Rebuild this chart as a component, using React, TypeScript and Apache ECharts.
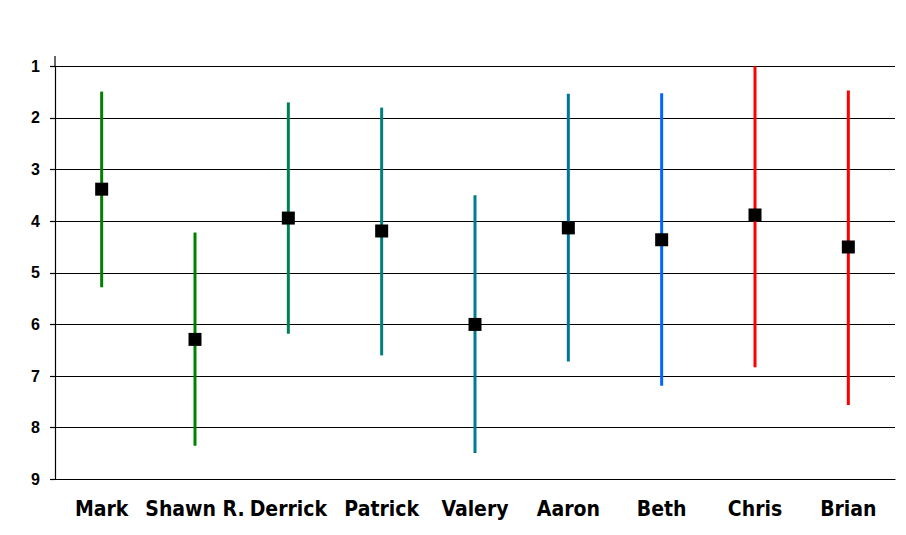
import React, { useEffect, useRef } from "react";
import * as echarts from "echarts";

const categories = ["Mark", "Shawn R.", "Derrick", "Patrick", "Valery", "Aaron", "Beth", "Chris", "Brian"];
const rangeTop = [1.49, 4.22, 1.7, 1.8, 3.5, 1.53, 1.52, 1.0, 1.47];
const rangeBottom = [5.28, 8.35, 6.18, 6.6, 8.49, 6.72, 7.19, 6.83, 7.56];
const means = [3.38, 6.29, 3.94, 4.19, 6.0, 4.13, 4.36, 3.88, 4.5];
const lineColors = ["#008000", "#008000", "#007f56", "#007f7c", "#007b92", "#0073a0", "#0066ff", "#ff0000", "#ff0000"];
const yTicks = [1, 2, 3, 4, 5, 6, 7, 8, 9];

export default function App() {
  const ref = useRef<HTMLDivElement>(null);
  useEffect(() => {
    if (!ref.current) return;
    const chart = echarts.init(ref.current, null, { renderer: "svg" });
    const option = {
      animation: false,
      backgroundColor: "#ffffff",
      grid: { left: 55, right: 11, top: 66.3, bottom: 55.7, containLabel: false },
      xAxis: {
        type: "category",
        data: categories,
        boundaryGap: true,
        axisLine: { show: true, onZero: false, lineStyle: { color: "#000", width: 1.2 } },
        axisTick: { show: false },
        axisLabel: {
          margin: 19,
          color: "#000",
          fontFamily: "'DejaVu Sans Condensed', 'Liberation Sans Narrow', 'Liberation Sans', sans-serif",
          fontWeight: "bold",
          fontSize: 21,
          interval: 0,
        },
        splitLine: { show: false },
      },
      yAxis: {
        type: "value",
        inverse: true,
        min: yTicks[0],
        max: yTicks[yTicks.length - 1],
        interval: 1,
        axisLine: { show: true, lineStyle: { color: "#000", width: 1.2 } },
        axisTick: { show: true, length: 5, lineStyle: { color: "#000", width: 1.2 } },
        axisLabel: {
          margin: 15,
          color: "#000",
          fontFamily: "'Liberation Sans', Arial, sans-serif",
          fontWeight: "bold",
          fontSize: 16,
        },
        splitLine: { show: true, lineStyle: { color: "#000", width: 1.2 } },
      },
      graphic: [
        { type: "line", shape: { x1: 55, y1: 56, x2: 55, y2: 67 }, style: { stroke: "#000", lineWidth: 1.2 } },
      ],
      series: [
        {
          type: "custom",
          data: categories.map((c, i) => [i, rangeTop[i], rangeBottom[i]]),
          encode: { x: 0, y: [1, 2] },
          renderItem: (params: any, api: any) => {
            const a = api.coord([api.value(0), api.value(1)]);
            const b = api.coord([api.value(0), api.value(2)]);
            return {
              type: "line",
              shape: { x1: a[0], y1: a[1], x2: b[0], y2: b[1] },
              style: { stroke: lineColors[params.dataIndex], lineWidth: 3 },
            };
          },
          z: 2,
        },
        {
          type: "scatter",
          data: categories.map((c, i) => [i, means[i]]),
          symbol: "rect",
          symbolSize: 13,
          itemStyle: { color: "#000", opacity: 1 },
          z: 3,
        },
      ],
    };
    chart.setOption(option);
    return () => chart.dispose();
  }, []);
  return <div ref={ref} style={{ position: "absolute", left: 0, top: 0, width: 906, height: 535 }} />;
}
